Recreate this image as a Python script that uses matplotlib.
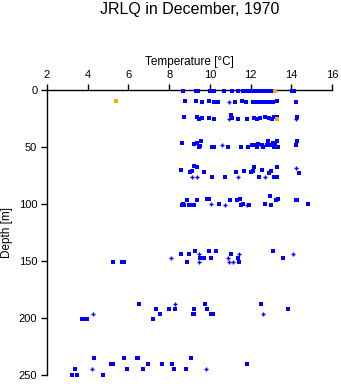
import matplotlib
matplotlib.use("Agg")
import matplotlib.pyplot as plt

plt.rcParams['font.family'] = ['Liberation Sans', 'DejaVu Sans']

title = "JRLQ in December, 1970"
xlabel = "Temperature [°C]"
ylabel = "Depth [m]"
xticks = [2, 4, 6, 8, 10, 12, 14, 16]
yticks = [0, 50, 100, 150, 200, 250]

# Blue square observations (temperature °C, depth m)
temp_sq = [
    # ~0 m
    8.69, 9.3, 9.4, 10.0, 10.2, 10.69, 11.1, 11.4, 11.61, 11.81, 11.97, 12.13,
    12.27, 12.41, 12.61, 12.79, 12.95, 13.05, 13.12, 14.02, 14.13,
    # ~10 m
    8.79, 9.33, 9.63, 9.97, 10.22, 10.32, 10.42, 11.23, 11.59, 11.79, 12.13,
    12.3, 12.51, 12.7, 12.92, 12.99, 13.12, 13.31, 14.21, 14.21,
    # ~25 m
    8.74, 9.38, 9.48, 9.6, 9.97, 10.22, 11.04, 11.09, 11.4, 11.81, 12.17,
    12.3, 12.48, 12.72, 12.9, 13.04, 13.14, 13.28, 14.29,
    # ~50 m
    8.65, 9.24, 9.38, 9.51, 9.58, 9.47, 10.1, 10.2, 10.9, 11.53, 11.89,
    12.08, 12.22, 12.3, 12.38, 12.55, 12.63, 12.79, 12.87, 12.99, 13.09,
    13.15, 13.21, 13.31, 13.36, 14.29, 14.23,
    # ~75 m
    8.6, 9.02, 9.11, 9.23, 9.35, 9.71, 10.1, 10.76, 11.3, 11.69, 12.03,
    12.13, 12.17, 12.43, 12.56, 12.92, 13.02, 13.15, 13.31, 13.31, 14.39,
    # ~100 m
    8.62, 8.68, 8.73, 8.89, 8.97, 9.14, 9.22, 9.35, 9.87, 9.96, 10.46,
    11.0, 11.32, 11.48, 11.51, 11.61, 11.94, 12.72, 12.95, 12.99, 13.25,
    13.36, 14.21, 14.29, 14.83,
    # ~150 m
    5.26, 5.67, 5.78, 8.6, 8.89, 8.99, 9.28, 9.51, 9.73, 9.97, 10.05,
    10.32, 11.02, 11.4, 11.45, 13.12, 13.61,
    # ~200 m
    3.7, 3.78, 3.87, 3.95, 6.53, 7.22, 7.37, 7.55, 7.99, 8.3, 9.16, 9.24,
    9.24, 9.76, 9.87, 10.06, 10.17, 12.53, 13.85,
    # ~250 m
    3.24, 3.46, 3.39, 4.32, 4.77, 5.14, 5.23, 5.78, 5.94, 6.4, 6.48, 6.73,
    6.98, 7.66, 8.15, 8.25, 8.84, 9.07, 11.84,
]
depth_sq = [
    0.5, 0.5, 0.5, 0.5, 0.5, 0.5, 0.5, 0.5, 0.5, 0.5, 0.5, 0.5,
    0.5, 0.5, 0.5, 0.5, 0.5, 0.5, 0.5, 0.5, 0.5,
    9.4, 9.4, 10.8, 9.4, 10.6, 10.6, 10.6, 10.8, 9.4, 10.8, 10.8,
    10.8, 10.6, 10.8, 10.8, 10.8, 10.2, 9.4, 10.2, 10.8,
    23.4, 23.4, 25.7, 24.8, 24.6, 25.7, 21.9, 24.3, 25.7, 25.7, 24.8,
    25.7, 24.8, 24.0, 24.8, 25.7, 24.0, 24.0, 23.7,
    46.8, 47.7, 46.8, 48.8, 44.7, 50.3, 50.3, 50.3, 50.3, 50.3, 50.3,
    48.6, 48.6, 50.3, 47.7, 48.6, 50.3, 48.6, 44.7, 48.0, 46.8,
    50.3, 48.6, 44.7, 50.3, 44.7, 48.0,
    70.2, 72.2, 71.3, 66.7, 67.3, 72.2, 76.0, 76.0, 72.2, 71.3, 72.2,
    71.3, 67.3, 76.0, 70.2, 73.0, 71.3, 76.0, 76.0, 67.3, 73.0,
    100.6, 100.0, 100.6, 96.9, 100.6, 100.6, 100.6, 96.9, 95.9, 95.9, 100.0,
    96.9, 96.9, 95.9, 100.6, 100.0, 100.6, 100.0, 93.3, 100.6, 96.9,
    95.9, 96.9, 96.9, 100.0,
    150.6, 150.6, 150.6, 144.2, 150.6, 144.2, 141.2, 147.0, 147.0, 141.2, 147.0,
    141.2, 144.2, 147.0, 150.6, 141.2, 147.0,
    200.6, 200.6, 200.6, 200.6, 188.0, 200.6, 192.4, 196.2, 192.4, 192.4, 196.2, 196.2,
    192.4, 188.0, 192.4, 196.2, 196.2, 188.0, 192.4,
    250.3, 250.3, 245.0, 235.4, 250.3, 240.3, 240.3, 235.4, 245.0, 235.4, 235.4, 245.0,
    240.3, 240.3, 240.3, 245.0, 245.0, 235.4, 240.3,
]

# Blue plus-shaped observations
temp_plus = [10.94, 10.94, 14.21, 10.58, 9.14, 9.35, 11.38, 12.72, 14.21,
             10.04, 10.74, 11.81, 8.09, 9.45, 9.47, 10.9, 10.95, 11.12, 11.45,
             14.1, 4.26, 8.3, 12.6, 4.19, 9.81]
depth_plus = [10.8, 25.7, 25.7, 48.6, 76.0, 76.0, 76.0, 76.0, 68.7,
              100.0, 100.6, 100.6, 147.0, 144.2, 150.6, 147.0, 150.6, 150.6, 144.2,
              144.2, 196.2, 188.0, 196.2, 245.0, 245.0]

# Orange observations
temp_orange = [13.22, 5.39, 13.31]
depth_orange = [0.5, 10.0, 25.7]

fig = plt.figure(figsize=(3.41, 3.84), dpi=100)
ax = fig.add_axes([0.1378, 0.0234, 0.8358, 0.7422])

blue = '#0000FF'
ax.plot(temp_sq, depth_sq, linestyle='none', marker='s', markersize=2.4,
        color=blue, markeredgewidth=0, clip_on=False, zorder=3)
ax.plot(temp_plus, depth_plus, linestyle='none', marker='+', markersize=3.0,
        color=blue, markeredgewidth=1.0, clip_on=False, zorder=3)
ax.plot(temp_orange, depth_orange, linestyle='none', marker='s', markersize=2.8,
        color='#FFA500', markeredgewidth=0, clip_on=False, zorder=4)

ax.set_xlim(2, 16)
ax.set_ylim(250, 0)
ax.set_xticks(xticks)
ax.set_yticks(yticks)
ax.xaxis.tick_top()
ax.xaxis.set_label_position('top')
ax.spines['right'].set_visible(False)
ax.spines['bottom'].set_visible(False)
for s in ('top', 'left'):
    ax.spines[s].set_linewidth(1.0)
ax.tick_params(axis='both', direction='out', length=4, width=1.0,
               labelsize=8, pad=3)
ax.set_xlabel(xlabel, fontsize=8.5, labelpad=4)
ax.set_ylabel(ylabel, fontsize=8.5, labelpad=4)
fig.text(0.5557, 0.995, title, ha='center', va='top', fontsize=11.5)

fig.savefig('out.png', dpi=100)
